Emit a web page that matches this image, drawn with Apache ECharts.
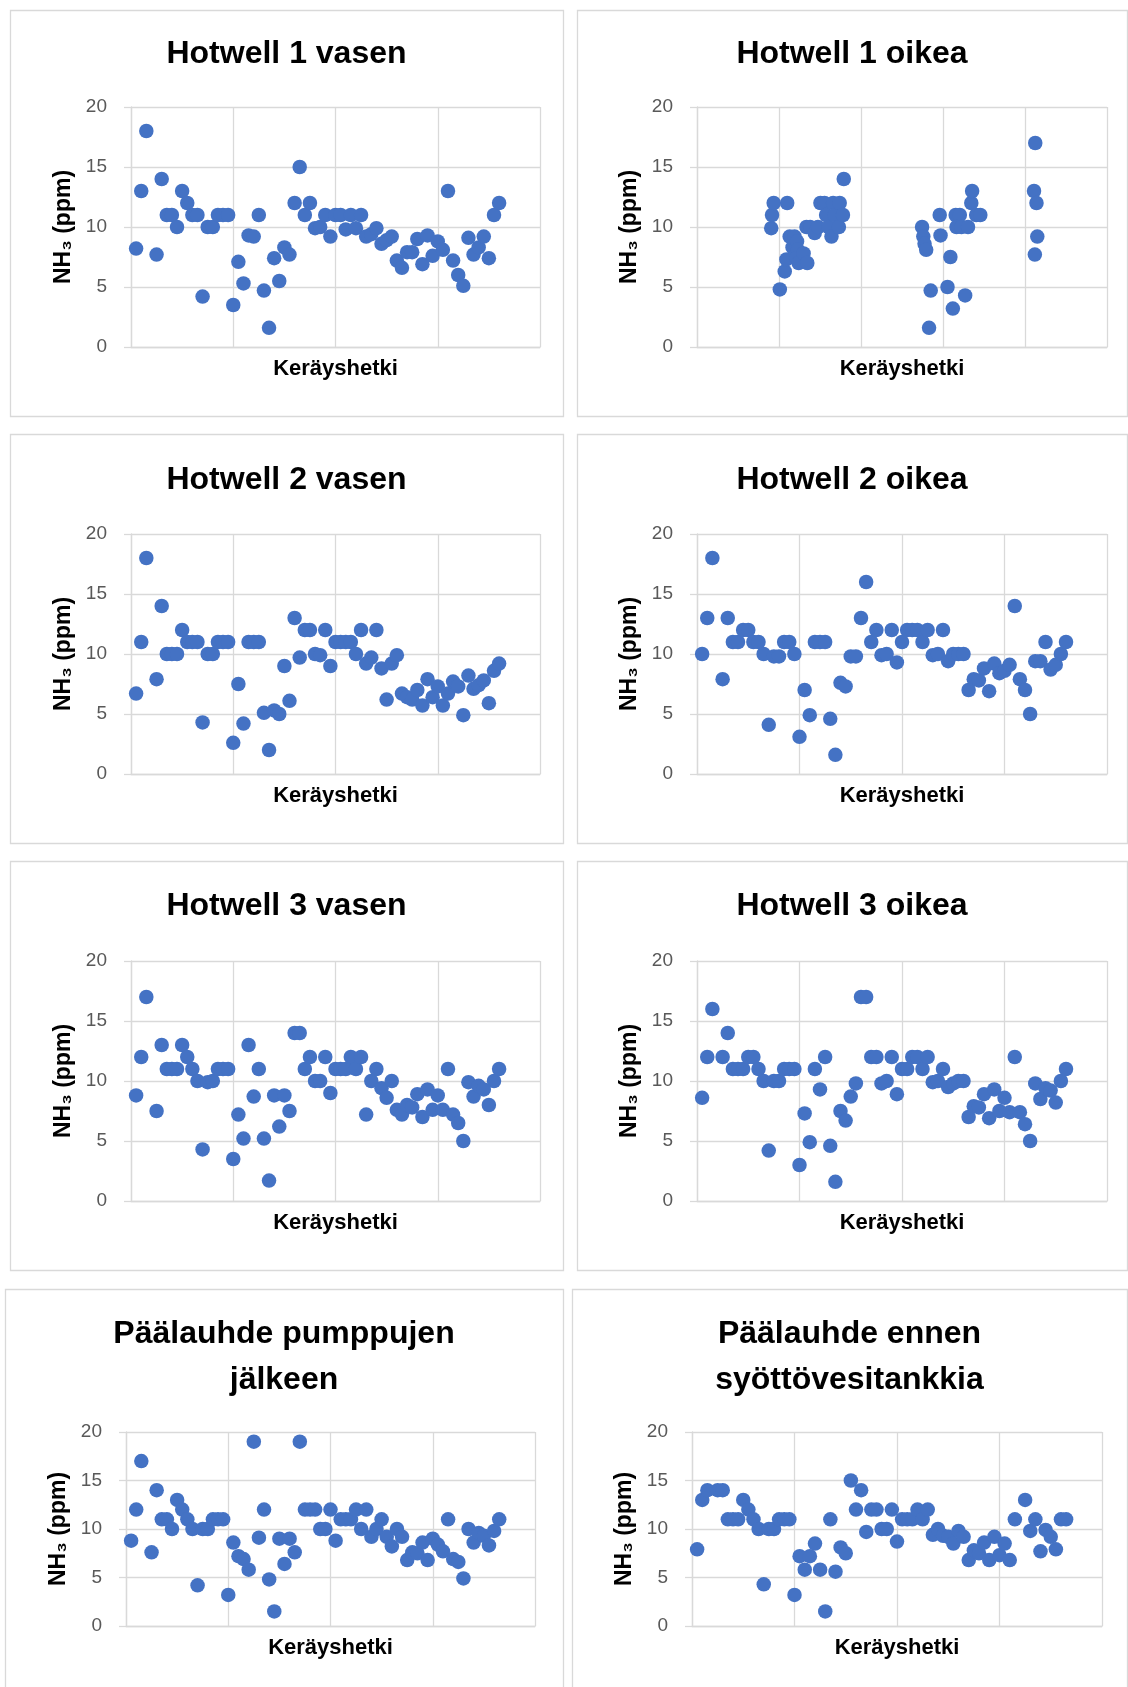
<!DOCTYPE html>
<html>
<head>
<meta charset="utf-8">
<title>NH3 Hotwell</title>
<script src="https://cdn.jsdelivr.net/npm/echarts@6/dist/echarts.min.js"></script>
<style>
  html, body { margin: 0; padding: 0; background: #fff; }
  #main { width: 1128px; height: 1687px; }
</style>
</head>
<body>
<div id="main"></div>
<script>
// sampling days (x values)
const days = [1,2,3,5,6,7,8,9,10,11,12,13,14,15,16,17,18,19,20,21,22,23,24,25,26,27,28,29,30,31,32,33,34,35,36,37,38,39,40,41,42,43,44,45,46,47,48,49,50,51,52,53,54,55,56,57,58,59,60,61,62,63,64,65,66,67,68,69,70,71,72]
const daysPumput = [1,2,3,5,6,7,8,9,10,11,12,13,14,15,16,17,18,19,20,21,22,23,24,25,26,27,28,29,30,31,32,33,34,35,36,37,38,39,40,41,42,43,44,45,46,47,48,49,50,51,52,53,54,55,56,57,58,59,60,61,62,63,64,65,66,67,68,69,70,71,72,73]
const daysTankki = [1,2,3,5,6,7,8,9,10,11,12,13,14,15,16,17,18,19,20,21,22,23,24,25,26,27,28,29,30,31,32,33,34,35,36,37,38,39,40,41,42,43,44,45,46,47,48,49,50,51,52,53,54,55,56,57,58,59,60,61,62,63,65,66,67,68,69,70,71,72,73]
const daysH1oikea = [18.1,18.3,18.7,20.2,21.4,21.8,22.0,22.6,23.3,23.8,24.4,24.6,24.2,24.8,26.0,26.9,26.7,27.6,28.7,29.5,30.1,31.1,31.5,32.1,32.8,33.2,33.6,34.6,34.8,35.6,35.8,
  54.9,55.2,55.5,55.9,56.6,57.0,59.2,59.4,61.1,61.8,62.4,63.1,64.1,63.3,64.5,65.4,66.1,66.9,67.1,68.1,69.1,
  82.2,82.5,82.8,83.0,82.4]

// NH3 (ppm)
const h1Vasen = [8.2,13,18,7.7,14,11,11,10,13,12,11,11,4.2,10,10,11,11,11,3.5,7.1,5.3,9.3,9.2,11,4.7,1.6,7.4,5.5,8.3,7.7,12,15,11,12,9.9,10,11,9.2,11,11,9.8,11,9.9,11,9.2,9.4,9.9,8.6,8.9,9.2,7.2,6.6,7.9,7.9,9.0,6.9,9.3,7.6,8.8,8.1,13,7.2,6.0,5.1,9.1,7.7,8.3,9.2,7.4,11,12]
const h1Oikea = [9.9,11,12,4.8,6.3,7.3,12,9.2,8.3,9.2,8.8,8.1,7.4,7.0,7.8,7.0,10,10,9.5,10,12,12,11,10,9.2,12,11,10,12,11,14,
  10,9.2,8.6,8.1,1.6,4.7,11,9.3,5.0,7.5,3.2,11,11,10,10,4.3,10,12,13,11,11,
  13,17,12,9.2,7.7]
const h2Vasen = [6.7,11,18,7.9,14,10,10,10,12,11,11,11,4.3,10,10,11,11,11,2.6,7.5,4.2,11,11,11,5.1,2.0,5.3,5.0,9.0,6.1,13,9.7,12,12,10,9.9,12,9.0,11,11,11,11,10,12,9.2,9.7,12,8.8,6.2,9.2,9.9,6.7,6.4,6.2,7.0,5.7,7.9,6.4,7.3,5.7,6.7,7.7,7.3,4.9,8.2,7.1,7.4,7.8,5.9,8.6,9.2]
const h2Oikea = [10,13,18,7.9,13,11,11,12,12,11,11,10,4.1,9.8,9.8,11,11,10,3.1,7.0,4.9,11,11,11,4.6,1.6,7.6,7.3,9.8,9.8,13,16,11,12,9.9,10,12,9.3,11,12,12,12,11,12,9.9,10,12,9.4,10,10,10,7.0,7.9,7.8,8.8,6.9,9.2,8.4,8.6,9.1,14,7.9,7.0,5.0,9.4,9.4,11,8.7,9.1,10,11]
const h3Vasen = [8.8,12,17,7.5,13,11,11,11,13,12,11,10,4.3,9.9,10,11,11,11,3.5,7.2,5.2,13,8.7,11,5.2,1.7,8.8,6.2,8.8,7.5,14,14,11,12,10,10,12,9.0,11,11,11,12,11,12,7.2,10,11,9.4,8.6,10,7.6,7.2,8.0,7.8,8.9,7.0,9.3,7.6,8.8,7.6,11,7.2,6.5,5.0,9.9,8.7,9.6,9.3,8.0,10,11]
const h3Oikea = [8.6,12,16,12,14,11,11,11,12,12,11,10,4.2,10,10,11,11,11,3.0,7.3,4.9,11,9.3,12,4.6,1.6,7.5,6.7,8.7,9.8,17,17,12,12,9.8,10,12,8.9,11,11,12,12,11,12,9.9,10,11,9.5,9.8,10,10,7.0,7.9,7.8,8.9,6.9,9.3,7.5,8.6,7.4,12,7.4,6.4,5.0,9.8,8.5,9.4,9.2,8.2,10,11]
const pumppujen = [8.8,12,17,7.6,14,11,11,10,13,12,11,10,4.2,10,10,11,11,11,3.2,8.6,7.2,6.9,5.8,19,9.1,12,4.8,1.5,9.0,6.4,9.0,7.6,19,12,12,12,10,10,12,8.8,11,11,11,12,10,12,9.2,10,11,9.2,8.2,10,9.2,6.8,7.6,7.5,8.6,6.8,9.0,8.4,7.7,11,6.9,6.6,4.9,10,8.6,9.6,9.3,8.3,9.8,11]
const ennenTankkia = [7.9,13,14,14,14,11,11,11,13,12,11,10,4.3,10,10,11,11,11,3.2,7.2,5.8,7.2,8.5,5.8,1.5,11,5.6,8.1,7.5,15,12,14,9.7,12,12,10,10,12,8.7,11,11,11,12,11,12,9.4,10,9.3,9.2,8.5,9.8,9.2,6.8,7.8,7.5,8.6,6.8,9.2,7.3,8.5,6.8,11,13,9.8,11,7.7,9.9,9.2,7.9,11,11]

const yTicks = [0, 5, 10, 15, 20]

function zip(xs, ys) {
  if (xs.length !== ys.length) console.warn('length mismatch', xs.length, ys.length)
  return ys.map((v, i) => [xs[i], v])
}

// panel box [x, y, w, h], plot [left, top, width, height]
const panels = [
  { title: 'Hotwell 1 vasen', x: days, y: h1Vasen, box: [10, 10, 553, 406], plot: [131, 107, 409, 240], titleY: 54, xMax: 80, xStep: 20 },
  { title: 'Hotwell 1 oikea', x: daysH1oikea, y: h1Oikea, box: [577, 10, 550, 406], plot: [697, 107, 410, 240], titleY: 54, xMax: 100, xStep: 20 },
  { title: 'Hotwell 2 vasen', x: days, y: h2Vasen, box: [10, 434, 553, 409], plot: [131, 534, 409, 240], titleY: 480, xMax: 80, xStep: 20 },
  { title: 'Hotwell 2 oikea', x: days, y: h2Oikea, box: [577, 434, 550, 409], plot: [697, 534, 410, 240], titleY: 480, xMax: 80, xStep: 20 },
  { title: 'Hotwell 3 vasen', x: days, y: h3Vasen, box: [10, 861, 553, 409], plot: [131, 961, 409, 240], titleY: 906, xMax: 80, xStep: 20 },
  { title: 'Hotwell 3 oikea', x: days, y: h3Oikea, box: [577, 861, 550, 409], plot: [697, 961, 410, 240], titleY: 906, xMax: 80, xStep: 20 },
  { title: 'Päälauhde pumppujen\njälkeen', x: daysPumput, y: pumppujen, box: [5, 1289, 558, 420], plot: [126, 1432, 409, 194], titleY: 1357, xMax: 80, xStep: 20 },
  { title: 'Päälauhde ennen\nsyöttövesitankkia', x: daysTankki, y: ennenTankkia, box: [572, 1289, 555, 420], plot: [692, 1432, 410, 194], titleY: 1357, xMax: 80, xStep: 20 }
]

const font = '"Liberation Sans", Arial, sans-serif'
const gridColor = '#d9d9d9'

const chart = echarts.init(document.getElementById('main'), null, { renderer: 'canvas' })

const option = {
  animation: false,
  backgroundColor: '#fff',
  textStyle: { fontFamily: font },
  title: [],
  grid: [],
  xAxis: [],
  yAxis: [],
  series: [],
  graphic: []
}

panels.forEach((p, i) => {
  const lines = p.title.split('\n').length
  option.graphic.push({
    type: 'rect',
    silent: true,
    shape: { x: p.box[0] + 0.5, y: p.box[1] + 0.5, width: p.box[2], height: p.box[3] },
    style: { fill: 'none', stroke: gridColor, lineWidth: 1.3 }
  })
  option.title.push({
    text: p.title,
    left: p.box[0] + p.box[2] / 2,
    top: p.titleY - lines * 23,
    textAlign: 'center',
    padding: 0,
    textStyle: { fontSize: 32, fontWeight: 'bold', color: '#000', fontFamily: font, lineHeight: 46 }
  })
  option.grid.push({ left: p.plot[0], top: p.plot[1], width: p.plot[2], height: p.plot[3], containLabel: false })
  option.xAxis.push({
    type: 'value',
    gridIndex: i,
    min: 0,
    max: p.xMax,
    interval: p.xStep,
    name: 'Keräyshetki',
    nameLocation: 'middle',
    nameGap: 11,
    nameTextStyle: { fontSize: 22, fontWeight: 'bold', color: '#000', fontFamily: font },
    axisLine: { show: true, lineStyle: { color: gridColor, width: 1.3 } },
    axisTick: { show: false },
    axisLabel: { show: false },
    splitLine: { show: true, lineStyle: { color: gridColor, width: 1.3 } }
  })
  option.yAxis.push({
    type: 'value',
    gridIndex: i,
    min: yTicks[0],
    max: yTicks[yTicks.length - 1],
    interval: yTicks[1] - yTicks[0],
    name: 'NH₃ (ppm)',
    nameLocation: 'middle',
    nameRotate: 90,
    nameGap: 56,
    nameTextStyle: { fontSize: 23, fontWeight: 'bold', color: '#000', fontFamily: font },
    axisLine: { show: true, lineStyle: { color: gridColor, width: 1.3 } },
    axisTick: { show: true, length: 7, lineStyle: { color: gridColor, width: 1.3 } },
    axisLabel: { color: '#595959', fontSize: 19, margin: 24, fontFamily: font },
    splitLine: { show: true, lineStyle: { color: gridColor, width: 1.3 } }
  })
  option.series.push({
    type: 'scatter',
    xAxisIndex: i,
    yAxisIndex: i,
    symbol: 'circle',
    symbolSize: 14.5,
    itemStyle: { color: '#4472c4', opacity: 1 },
    silent: true,
    data: zip(p.x, p.y)
  })
})

chart.setOption(option)
</script>
</body>
</html>
